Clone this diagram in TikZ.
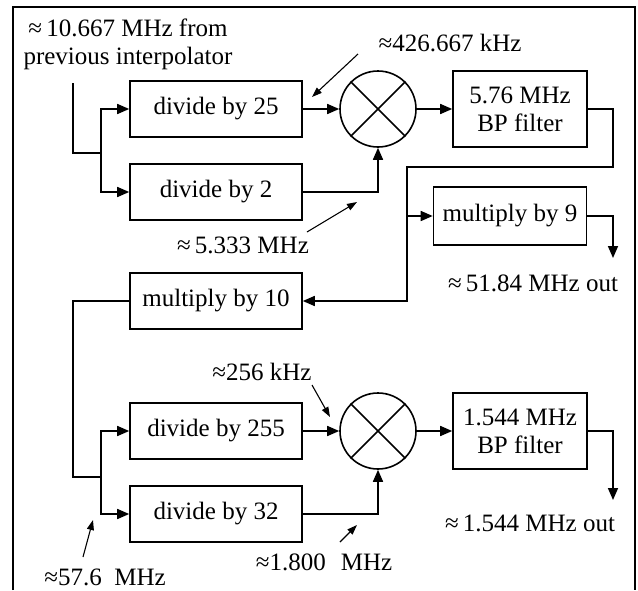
\documentclass[tikz,border=0pt]{standalone}
\usepackage{fontspec}
\setmainfont{Liberation Serif}
\usetikzlibrary{arrows.meta}

\tikzset{
  blk/.style={draw, line width=1.6pt, minimum width=172pt, minimum height=56pt, inner sep=0pt, align=center},
  mix/.style={draw, circle, line width=1.6pt, minimum size=76pt, inner sep=0pt},
  wire/.style={line width=1.6pt},
  sig/.style={wire, -{Triangle[length=12pt,width=10pt]}},
  ptr/.style={line width=1.1pt, -{Triangle[length=10pt,width=7pt]}},
  lbl/.style={inner sep=0pt, align=center}
}

\begin{document}
\begin{tikzpicture}[x=1pt,y=-1pt,font=\fontsize{25}{28}\selectfont]
\useasboundingbox (0,0) rectangle (638,590);
\draw[line width=2.2pt] (13,590) -- (13,7) -- (635,7) -- (635,590);

% blocks
\node[blk] (d25) at (216,109) {divide by 25};
\node[blk] (d2) at (216,192) {divide by 2};
\node[blk] (m10) at (216,301) {multiply by 10};
\node[blk] (d255) at (216,431) {divide by 255};
\node[blk] (d32) at (216,514) {divide by 32};
\node[mix] (x1) at (378,109) {};
\node[mix] (x2) at (378,431) {};
\node[blk, minimum width=134pt, minimum height=76pt] (bp1) at (520,109) {5.76 MHz\\BP filter};
\node[blk, minimum width=153pt, minimum height=58pt] (m9) at (510,216) {multiply by 9};
\node[blk, minimum width=134pt, minimum height=76pt] (bp2) at (520,431) {1.544 MHz\\BP filter};
\foreach \m in {x1,x2} {
  \draw[wire] (\m.45) -- (\m.225);
  \draw[wire] (\m.135) -- (\m.315);
}

% wiring
\coordinate (in) at (73,83);
\coordinate (j1) at (101,153);
\coordinate (fb) at (407,167);
\coordinate (c2) at (73,477);
\coordinate (j2) at (101,477);
\coordinate (o9) at (613,258);
\coordinate (o2) at (613,500);
\draw[wire] (in) |- (j1);
\draw[sig] (j1) |- (d25);
\draw[sig] (j1) |- (d2);
\draw[sig] (d25) -- (x1);
\draw[sig] (d2) -| (x1);
\draw[sig] (x1) -- (bp1);
\draw[sig] (bp1) -- ++(93,0) |- (fb) |- (m10);
\draw[sig] (fb |- m9) -- (m9);
\draw[sig] (m9) -| (o9);
\draw[wire] (m10) -| (c2) -- (j2);
\draw[sig] (j2) |- (d255);
\draw[sig] (j2) |- (d32);
\draw[sig] (d255) -- (x2);
\draw[sig] (d32) -| (x2);
\draw[sig] (x2) -- (bp2);
\draw[sig] (bp2) -| (o2);

% labels
\node[lbl] (lin) at (128,44) {≈\,10.667 MHz from\\previous interpolator};
\node[lbl] (l426) at (450,43) {≈426.667 kHz};
\node[lbl] (l533) at (243,245) {≈\,5.333 MHz};
\node[lbl] (l256) at (262,372) {≈256 kHz};
\node[lbl] (l180) at (324,562) {≈1.800\hspace{0.6em}MHz};
\node[lbl] (l576) at (105,577) {≈57.6\hspace{0.5em}MHz};
\node[lbl] (l5184) at (533,283) {≈\,51.84 MHz out};
\node[lbl] (l1544) at (530,523) {≈\,1.544 MHz out};

% pointers
\coordinate (p1a) at (358,54);   \coordinate (p1b) at (312,97);
\coordinate (p2a) at (307,232);  \coordinate (p2b) at (357,202);
\coordinate (p3a) at (312,385);  \coordinate (p3b) at (330,417);
\coordinate (p4a) at (340,542);  \coordinate (p4b) at (357,525);
\coordinate (p5a) at (83,557);   \coordinate (p5b) at (93,520);
\draw[ptr] (p1a) -- (p1b);
\draw[ptr] (p2a) -- (p2b);
\draw[ptr] (p3a) -- (p3b);
\draw[ptr] (p4a) -- (p4b);
\draw[ptr] (p5a) -- (p5b);
\end{tikzpicture}
\end{document}
